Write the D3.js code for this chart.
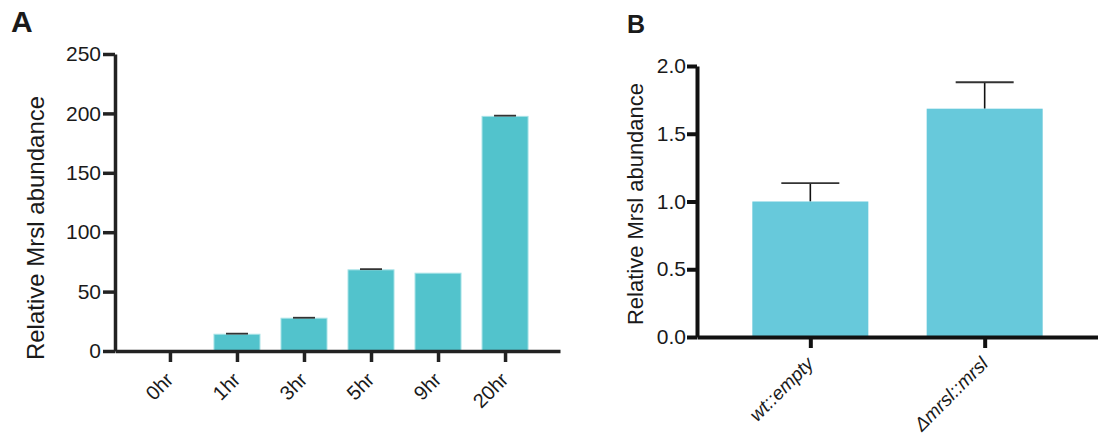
<!DOCTYPE html>
<html>
<head>
<meta charset="utf-8">
<script src="https://cdn.jsdelivr.net/npm/d3@7"></script>
<style>
  body { margin: 0; background: #fff; }
  svg { display: block; }
  text { font-family: "Liberation Sans", Arial, sans-serif; fill: #1a1a1a; }
</style>
</head>
<body>
<div id="chart-area"></div>
<script>
// panel A: time course
const hoursA = ["0hr", "1hr", "3hr", "5hr", "9hr", "20hr"]
const valuesA = [0, 14.1, 27.6, 68.3, 65.5, 197.5]
const errorsA = [0, 0.5, 0.4, 0.6, 0, 0.6]
const ticksA = [0, 50, 100, 150, 200, 250]

// panel B: complementation
const strainsB = ["wt::empty", "\u0394mrsl::mrsl"]
const valuesB = [1.0, 1.685]
const errorsB = [0.135, 0.195]
const ticksB = [0, 0.5, 1.0, 1.5, 2.0]

const svg = d3.select("#chart-area").append("svg")
  .attr("width", 1098)
  .attr("height", 439)

// ---------- panel A ----------
const A = {LEFT: 115, TOP: 54, WIDTH: 445, HEIGHT: 297}
const gA = svg.append("g").attr("transform", `translate(${A.LEFT}, ${A.TOP})`)

const xA = d3.scalePoint().domain(hoursA).range([0, A.WIDTH]).padding(0.82)
const yA = d3.scaleLinear().domain([0, 250]).range([A.HEIGHT, 0])
const barWA = 46

gA.selectAll("rect.bar")
  .data(hoursA)
  .enter().append("rect")
  .attr("class", "bar")
  .attr("x", d => xA(d) - barWA / 2)
  .attr("width", barWA)
  .attr("y", (d, i) => yA(valuesA[i]))
  .attr("height", (d, i) => yA(0) - yA(valuesA[i]))
  .attr("fill", "#52c3cc")
  .attr("stroke", "#a6e2e6")
  .attr("stroke-width", 1)

// tiny error caps
const errA = hoursA.map((d, i) => ({cat: d, v: valuesA[i], e: errorsA[i]})).filter(d => d.e > 0)
gA.selectAll("line.cap")
  .data(errA)
  .enter().append("line")
  .attr("class", "cap")
  .attr("x1", d => xA(d.cat) - 11)
  .attr("x2", d => xA(d.cat) + 11)
  .attr("y1", d => yA(d.v + d.e))
  .attr("y2", d => yA(d.v + d.e))
  .attr("stroke", "#333")
  .attr("stroke-width", 1.8)

const yAxisA = gA.append("g")
  .call(d3.axisLeft(yA).tickValues(ticksA).tickSize(12).tickPadding(2).tickSizeOuter(0))
const xAxisA = gA.append("g")
  .attr("transform", `translate(0, ${A.HEIGHT})`)
  .call(d3.axisBottom(xA).tickSize(11).tickSizeOuter(0))

yAxisA.selectAll("text").attr("font-size", "21px")
xAxisA.selectAll("text")
  .attr("font-size", "20px")
  .attr("text-anchor", "end")
  .attr("dy", 0)
  .attr("y", 0)
  .attr("transform", "translate(4, 30) rotate(-45)")

gA.selectAll(".domain, .tick line").attr("stroke", "#222").attr("stroke-width", 3.5)

svg.append("text")
  .attr("transform", `translate(44, 228) rotate(-90)`)
  .attr("text-anchor", "middle")
  .attr("font-size", "24px")
  .text("Relative Mrsl abundance")

svg.append("text")
  .attr("x", 11)
  .attr("y", 32)
  .attr("font-size", "30px")
  .attr("font-weight", "bold")
  .text("A")

// ---------- panel B ----------
const B = {LEFT: 697, TOP: 66, WIDTH: 401, HEIGHT: 271}
const gB = svg.append("g").attr("transform", `translate(${B.LEFT}, ${B.TOP})`)

const xB = d3.scalePoint().domain(strainsB).range([0, B.WIDTH]).padding(0.65)
const yB = d3.scaleLinear().domain([0, 2]).range([B.HEIGHT, 0])
const barWB = 116

// error bars first so the stem sits on the bar
gB.selectAll("line.stem")
  .data(strainsB)
  .enter().append("line")
  .attr("class", "stem")
  .attr("x1", d => xB(d))
  .attr("x2", d => xB(d))
  .attr("y1", (d, i) => yB(valuesB[i]))
  .attr("y2", (d, i) => yB(valuesB[i] + errorsB[i]))
  .attr("stroke", "#111")
  .attr("stroke-width", 1.6)

gB.selectAll("line.cap")
  .data(strainsB)
  .enter().append("line")
  .attr("class", "cap")
  .attr("x1", d => xB(d) - 29)
  .attr("x2", d => xB(d) + 29)
  .attr("y1", (d, i) => yB(valuesB[i] + errorsB[i]))
  .attr("y2", (d, i) => yB(valuesB[i] + errorsB[i]))
  .attr("stroke", "#333")
  .attr("stroke-width", 1.8)

gB.selectAll("rect.bar")
  .data(strainsB)
  .enter().append("rect")
  .attr("class", "bar")
  .attr("x", d => xB(d) - barWB / 2)
  .attr("width", barWB)
  .attr("y", (d, i) => yB(valuesB[i]))
  .attr("height", (d, i) => yB(0) - yB(valuesB[i]))
  .attr("fill", "#67c9db")

const yAxisB = gB.append("g")
  .call(d3.axisLeft(yB).tickValues(ticksB).tickFormat(d3.format(".1f")).tickSize(10).tickPadding(1).tickSizeOuter(0))
const xAxisB = gB.append("g")
  .attr("transform", `translate(0, ${B.HEIGHT})`)
  .call(d3.axisBottom(xB).tickSize(11).tickSizeOuter(0))

yAxisB.selectAll("text").attr("font-size", "21px")
xAxisB.selectAll("text")
  .attr("font-family", "'Open Sans', sans-serif")
  .attr("font-style", "italic")
  .attr("font-size", "19px")
  .attr("text-anchor", "end")
  .attr("dy", 0)
  .attr("y", 0)
  .attr("transform", "translate(4, 28) rotate(-45)")

gB.selectAll(".domain, .tick line").attr("stroke", "#111").attr("stroke-width", 4)

svg.append("text")
  .attr("transform", `translate(643, 204) rotate(-90)`)
  .attr("text-anchor", "middle")
  .attr("font-size", "22px")
  .text("Relative Mrsl abundance")

svg.append("text")
  .attr("x", 627)
  .attr("y", 33)
  .attr("font-size", "25px")
  .attr("font-weight", "bold")
  .text("B")
</script>
</body>
</html>
